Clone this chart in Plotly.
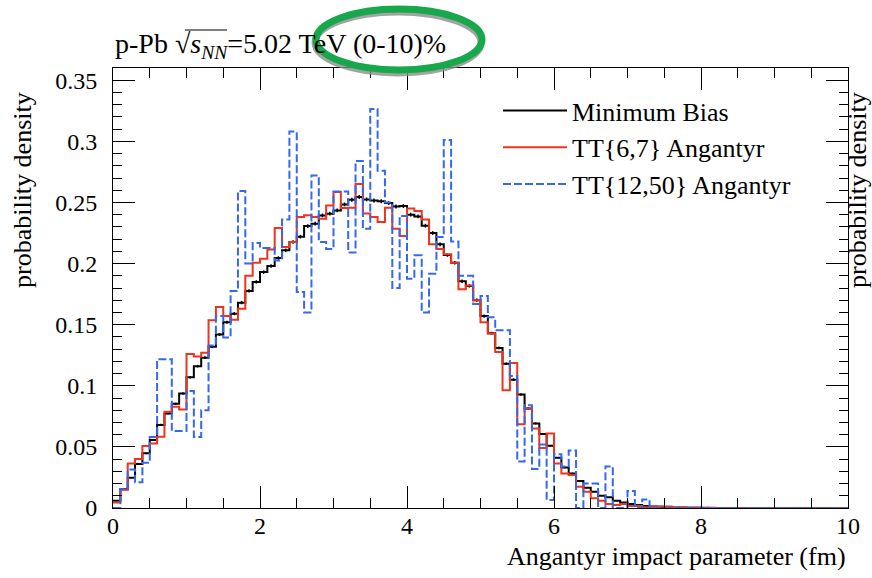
import plotly.graph_objects as go

# ---------------- data ----------------
BIN_WIDTH = 0.1
N_BINS = 100
bin_edges = [round(i * BIN_WIDTH, 2) for i in range(N_BINS + 1)]
bin_centers = [round((i + 0.5) * BIN_WIDTH, 3) for i in range(N_BINS)]

minimum_bias = [
    0.006, 0.0153, 0.0248, 0.036, 0.0447, 0.0556, 0.068, 0.0773, 0.0852, 0.0937,
    0.107, 0.116, 0.123, 0.132, 0.142, 0.152, 0.159, 0.168, 0.1776, 0.185,
    0.193, 0.198, 0.2045, 0.2108, 0.2176, 0.222, 0.2307, 0.2326, 0.2394, 0.2408,
    0.2435, 0.2484, 0.2522, 0.2544, 0.2525, 0.2516, 0.251, 0.2495, 0.2467, 0.247,
    0.240, 0.2386, 0.231, 0.225, 0.2157, 0.207, 0.2007, 0.1855, 0.1817, 0.170,
    0.157, 0.143, 0.131, 0.118, 0.105, 0.0929, 0.0814, 0.0692, 0.0605, 0.0509,
    0.0411, 0.0332, 0.0283, 0.0220, 0.0165, 0.0133, 0.0101, 0.0087, 0.0060, 0.0044,
    0.0033, 0.0025, 0.0017, 0.0012, 0.0010, 0.0007, 0.0005, 0.0004, 0.0003, 0.0002,
    0.00015, 0.0001, 0.0001, 0.00008, 0.00005, 0.00003, 0.00003, 0.00003, 0.00003, 0.00003,
    0.00002, 0.00002, 0.00002, 0.00002, 0.00002, 0.00001, 0.00001, 0.00001, 0.00001, 0.00001,
]

tt_6_7 = [
    0.0044, 0.015, 0.0365, 0.040, 0.0507, 0.0528, 0.0583, 0.0787, 0.0828, 0.0806,
    0.126, 0.124, 0.127, 0.1536, 0.1645, 0.157, 0.154, 0.163, 0.190, 0.2007,
    0.204, 0.2116, 0.229, 0.2135, 0.2176, 0.238, 0.2395, 0.238, 0.2367, 0.2475,
    0.2585, 0.2454, 0.2457, 0.265, 0.241, 0.238, 0.234, 0.2457, 0.2285, 0.2225,
    0.245, 0.243, 0.236, 0.2157, 0.212, 0.2076, 0.2007, 0.179, 0.182, 0.170,
    0.152, 0.1427, 0.1277, 0.0964, 0.1187, 0.0686, 0.0814, 0.065, 0.049, 0.061,
    0.0365, 0.0283, 0.027, 0.0174, 0.0133, 0.0079, 0.006, 0.0033, 0.0025, 0.0033,
    0.0017, 0.0017, 0.0007, 0.0012, 0.0012, 0.0012, 0.0005, 0.0005, 0.0005, 0.0005,
    0.0, 0.0003, 0.0, 0.0, 0.0, 0.0, 0.0, 0.0, 0.0, 0.0,
    0.0, 0.0, 0.0, 0.0, 0.0, 0.0, 0.0, 0.0, 0.0, 0.0,
]

tt_12_50 = [
    0.0, 0.0153, 0.0316, 0.021, 0.037, 0.058, 0.1217, 0.1217, 0.063, 0.063,
    0.0958, 0.058, 0.080, 0.133, 0.157, 0.1395, 0.1775, 0.2593, 0.200, 0.2168,
    0.2127, 0.2127, 0.2026, 0.236, 0.308, 0.1767, 0.160, 0.272, 0.2176, 0.212,
    0.259, 0.259, 0.209, 0.284, 0.2285, 0.3265, 0.276, 0.250, 0.180, 0.239,
    0.1876, 0.2067, 0.160, 0.1917, 0.2217, 0.301, 0.218, 0.190, 0.190, 0.167,
    0.1735, 0.156, 0.1454, 0.1454, 0.108, 0.038, 0.084, 0.032, 0.052, 0.0065,
    0.044, 0.034, 0.047, 0.0, 0.020, 0.020, 0.0, 0.034, 0.0, 0.0,
    0.014, 0.0, 0.007, 0.0, 0.0, 0.0, 0.0, 0.0, 0.0, 0.0,
    0.0, 0.0, 0.0, 0.0, 0.0, 0.0, 0.0, 0.0, 0.0, 0.0,
    0.0, 0.0, 0.0, 0.0, 0.0, 0.0, 0.0, 0.0, 0.0, 0.0,
]

# statistical uncertainty of the minimum-bias sample (derived from its values)
mb_err = [0.0016 * (v / 0.25) ** 0.5 for v in minimum_bias]

series_names = ["Minimum Bias", "TT{6,7} Angantyr", "TT{12,50} Angantyr"]
x_ticks = [0, 2, 4, 6, 8, 10]

# ---------------- figure ----------------
FONT = "Liberation Serif"
RED = "rgb(238,52,28)"
BLUE = "rgb(52,104,240)"

fig = go.Figure()

fig.add_trace(go.Scatter(
    x=bin_edges, y=minimum_bias + [minimum_bias[-1]], mode="lines",
    line=dict(color="black", width=2, shape="hv"), name=series_names[0]))
fig.add_trace(go.Scatter(
    x=bin_centers, y=minimum_bias, mode="markers",
    marker=dict(size=1, color="rgba(0,0,0,0)"),
    error_y=dict(type="data", array=mb_err, color="black", thickness=1.5, width=0),
    showlegend=False, hoverinfo="skip"))
fig.add_trace(go.Scatter(
    x=bin_edges, y=tt_6_7 + [tt_6_7[-1]], mode="lines",
    line=dict(color=RED, width=2, shape="hv"), name=series_names[1]))
fig.add_trace(go.Scatter(
    x=bin_edges, y=tt_12_50 + [tt_12_50[-1]], mode="lines",
    line=dict(color=BLUE, width=2, shape="hv", dash="8px,3px"), name=series_names[2]))

axis_common = dict(
    showgrid=False, zeroline=False, showline=True, linecolor="black", linewidth=1,
    mirror="ticks", ticks="inside", tickcolor="black", tickwidth=1, ticklen=22,
    tickfont=dict(family=FONT, size=24, color="black"),
)

fig.update_xaxes(range=[0, 10], tickvals=x_ticks, ticklabelstandoff=-4,
                 minor=dict(dtick=0.5, tick0=0, ticks="inside", ticklen=10,
                            tickcolor="black", tickwidth=1, showgrid=False),
                 **axis_common)
fig.update_yaxes(range=[0, 0.36], dtick=0.05, tick0=0, ticklabelstandoff=10,
                 minor=dict(dtick=0.01, tick0=0, ticks="inside", ticklen=9,
                            tickcolor="black", tickwidth=1, showgrid=False),
                 **axis_common)

def px_x(p):
    return (p - 113) / 735.0

def px_y(p):
    return (508 - p) / 440.0

annotations = [
    dict(text="p-Pb √<i>s</i><sub><i>NN</i></sub>=5.02 TeV (0-10)%",
         x=0, y=px_y(45), xref="paper", yref="paper", xanchor="left", yanchor="middle",
         showarrow=False, font=dict(family=FONT, size=28, color="black")),
    dict(text="Angantyr impact parameter (fm)",
         x=1, y=px_y(556), xref="paper", yref="paper", xanchor="right", yanchor="middle",
         showarrow=False, font=dict(family=FONT, size=26, color="black")),
    dict(text="probability density", textangle=-90,
         x=px_x(22), y=px_y(90), xref="paper", yref="paper", xanchor="center", yanchor="top",
         showarrow=False, font=dict(family=FONT, size=26, color="black")),
    dict(text="probability density", textangle=-90,
         x=px_x(857), y=px_y(90), xref="paper", yref="paper", xanchor="center", yanchor="top",
         showarrow=False, font=dict(family=FONT, size=26, color="black")),
]

shapes = [
    # overline of the square root
    dict(type="line", xref="paper", yref="paper",
         x0=px_x(185), x1=px_x(227), y0=px_y(30), y1=px_y(30),
         line=dict(color="black", width=1.2)),
    # hand-drawn highlight ellipse: shadow then green
    dict(type="circle", xref="paper", yref="paper",
         x0=px_x(315), x1=px_x(481), y0=px_y(73), y1=px_y(12),
         line=dict(color="rgba(140,140,140,0.8)", width=7), layer="above"),
    dict(type="circle", xref="paper", yref="paper",
         x0=px_x(316), x1=px_x(482), y0=px_y(70), y1=px_y(9),
         line=dict(color="rgb(22,168,74)", width=7), layer="above"),
]

fig.update_layout(
    width=872, height=578,
    margin=dict(l=113, r=24, t=68, b=70),
    paper_bgcolor="white", plot_bgcolor="white",
    font=dict(family=FONT, size=24, color="black"),
    showlegend=True,
    legend=dict(x=px_x(498), y=px_y(87), xanchor="left", yanchor="top",
                bgcolor="rgba(0,0,0,0)", borderwidth=0,
                font=dict(family=FONT, size=26, color="black"),
                itemwidth=64, tracegroupgap=0),
    annotations=annotations,
    shapes=shapes,
)

fig.write_html("out.html",
               config={"displayModeBar": False},
               post_script="document.body.style.margin='0';document.body.style.padding='0';")
